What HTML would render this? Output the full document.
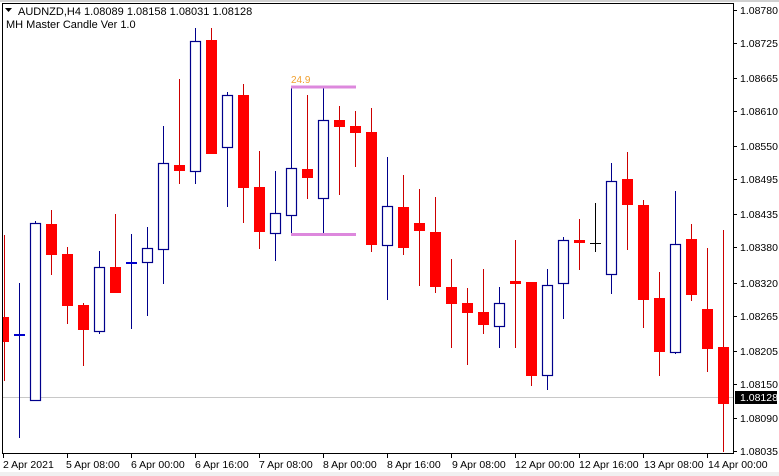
<!DOCTYPE html>
<html><head><meta charset="utf-8"><style>
html,body{margin:0;padding:0;background:#fff;}
svg{display:block;font-family:"Liberation Sans",Tahoma,sans-serif;font-size:11px;}
</style></head><body>
<svg width="779" height="476" viewBox="0 0 779 476" xmlns="http://www.w3.org/2000/svg">
<rect width="779" height="476" fill="#fff"/>
<rect x="0" y="472" width="779" height="4" fill="#f0f0f0"/>
<line x1="0" y1="1" x2="779" y2="1" stroke="#a0a0a0" stroke-width="1"/>
<rect x="2.5" y="3.5" width="731" height="450" fill="none" stroke="#000" stroke-width="1"/>
<line x1="3" y1="397.5" x2="733" y2="397.5" stroke="#c8c8c8" stroke-width="1"/>
<g id="c">
<!-- wick lines -->
<g stroke-width="1.2" shape-rendering="crispEdges">
<line x1="4.5" y1="235" x2="4.5" y2="381" stroke="#c00"/>
<line x1="19.5" y1="283" x2="19.5" y2="438" stroke="#00008b"/>
<line x1="35.5" y1="221" x2="35.5" y2="401" stroke="#00008b"/>
<line x1="51.5" y1="210" x2="51.5" y2="275" stroke="#c00"/>
<line x1="67.5" y1="247" x2="67.5" y2="324" stroke="#c00"/>
<line x1="83.5" y1="303" x2="83.5" y2="366" stroke="#c00"/>
<line x1="99.5" y1="251" x2="99.5" y2="334" stroke="#00008b"/>
<line x1="115.5" y1="214" x2="115.5" y2="293" stroke="#c00"/>
<line x1="131.5" y1="234" x2="131.5" y2="329" stroke="#00008b"/>
<line x1="147.5" y1="227" x2="147.5" y2="316" stroke="#00008b"/>
<line x1="163.5" y1="126" x2="163.5" y2="284" stroke="#00008b"/>
<line x1="179.5" y1="79" x2="179.5" y2="184" stroke="#c00"/>
<line x1="195.5" y1="28" x2="195.5" y2="184" stroke="#00008b"/>
<line x1="211.5" y1="28" x2="211.5" y2="154" stroke="#c00"/>
<line x1="227.5" y1="92" x2="227.5" y2="207" stroke="#00008b"/>
<line x1="243.5" y1="84" x2="243.5" y2="223" stroke="#c00"/>
<line x1="259.5" y1="151" x2="259.5" y2="249" stroke="#c00"/>
<line x1="275.5" y1="171" x2="275.5" y2="261" stroke="#00008b"/>
<line x1="291.5" y1="87" x2="291.5" y2="234" stroke="#00008b"/>
<line x1="307.5" y1="95" x2="307.5" y2="199" stroke="#c00"/>
<line x1="323.5" y1="88" x2="323.5" y2="234" stroke="#00008b"/>
<line x1="339.5" y1="106" x2="339.5" y2="195" stroke="#c00"/>
<line x1="355.5" y1="111" x2="355.5" y2="167" stroke="#c00"/>
<line x1="371.5" y1="108" x2="371.5" y2="252" stroke="#c00"/>
<line x1="387.5" y1="157" x2="387.5" y2="300" stroke="#00008b"/>
<line x1="403.5" y1="175" x2="403.5" y2="255" stroke="#c00"/>
<line x1="419.5" y1="189" x2="419.5" y2="286" stroke="#c00"/>
<line x1="435.5" y1="197" x2="435.5" y2="293" stroke="#c00"/>
<line x1="451.5" y1="259" x2="451.5" y2="348" stroke="#c00"/>
<line x1="467.5" y1="288" x2="467.5" y2="365" stroke="#c00"/>
<line x1="483.5" y1="269" x2="483.5" y2="334" stroke="#c00"/>
<line x1="499.5" y1="287" x2="499.5" y2="348" stroke="#00008b"/>
<line x1="515.5" y1="240" x2="515.5" y2="348" stroke="#c00"/>
<line x1="531.5" y1="282" x2="531.5" y2="386" stroke="#c00"/>
<line x1="547.5" y1="269" x2="547.5" y2="390" stroke="#00008b"/>
<line x1="563.5" y1="237" x2="563.5" y2="319" stroke="#00008b"/>
<line x1="579.5" y1="219" x2="579.5" y2="270" stroke="#c00"/>
<line x1="595.5" y1="203" x2="595.5" y2="252" stroke="#000"/>
<line x1="611.5" y1="163" x2="611.5" y2="294" stroke="#00008b"/>
<line x1="627.5" y1="152" x2="627.5" y2="250" stroke="#c00"/>
<line x1="643.5" y1="200" x2="643.5" y2="328" stroke="#c00"/>
<line x1="659.5" y1="272" x2="659.5" y2="376" stroke="#c00"/>
<line x1="675.5" y1="191" x2="675.5" y2="354" stroke="#00008b"/>
<line x1="691.5" y1="224" x2="691.5" y2="301" stroke="#c00"/>
<line x1="707.5" y1="248" x2="707.5" y2="372" stroke="#c00"/>
<line x1="723.5" y1="230" x2="723.5" y2="452" stroke="#c00"/>
</g>
<!-- red bodies -->
<g fill="#f00">
<rect x="3" y="317" width="6" height="25"/>
<rect x="46" y="224" width="11" height="31"/>
<rect x="62" y="254" width="11" height="52"/>
<rect x="78" y="305" width="11" height="25"/>
<rect x="110" y="267" width="11" height="26"/>
<rect x="174" y="165" width="11" height="6"/>
<rect x="206" y="40" width="11" height="114"/>
<rect x="238" y="95" width="11" height="93"/>
<rect x="254" y="187" width="11" height="45"/>
<rect x="302" y="169" width="11" height="9"/>
<rect x="334" y="120" width="11" height="7"/>
<rect x="350" y="126" width="11" height="7"/>
<rect x="366" y="132" width="11" height="113"/>
<rect x="398" y="207" width="11" height="41"/>
<rect x="414" y="223" width="11" height="8"/>
<rect x="430" y="232" width="11" height="55"/>
<rect x="446" y="287" width="11" height="17"/>
<rect x="462" y="303" width="11" height="10"/>
<rect x="478" y="312" width="11" height="13"/>
<rect x="510" y="281" width="11" height="3"/>
<rect x="526" y="282" width="11" height="94"/>
<rect x="574" y="240" width="11" height="3"/>
<rect x="622" y="179" width="11" height="26"/>
<rect x="638" y="205" width="11" height="95"/>
<rect x="654" y="298" width="11" height="54"/>
<rect x="686" y="239" width="11" height="56"/>
<rect x="702" y="309" width="11" height="40"/>
<rect x="718" y="347" width="11" height="57"/>
</g>
<!-- blue bodies -->
<g fill="#fff" stroke="#00008b" stroke-width="1.2">
<rect x="30.5" y="223.5" width="10" height="177"/>
<rect x="94.5" y="267.5" width="10" height="64"/>
<rect x="142.5" y="248.5" width="10" height="14"/>
<rect x="158.5" y="163.5" width="10" height="86"/>
<rect x="190.5" y="41.5" width="10" height="130"/>
<rect x="222.5" y="95.5" width="10" height="52"/>
<rect x="270.5" y="213.5" width="10" height="20"/>
<rect x="286.5" y="168.5" width="10" height="47"/>
<rect x="318.5" y="120.5" width="10" height="78"/>
<rect x="382.5" y="206.5" width="10" height="39"/>
<rect x="494.5" y="303.5" width="10" height="23"/>
<rect x="542.5" y="285.5" width="10" height="90"/>
<rect x="558.5" y="240.5" width="10" height="43"/>
<rect x="606.5" y="181.5" width="10" height="93"/>
<rect x="670.5" y="244.5" width="10" height="108"/>
</g>
<line x1="14" y1="335" x2="25" y2="335" stroke="#0000cc" stroke-width="2"/>
<line x1="126" y1="263" x2="137" y2="263" stroke="#0000cc" stroke-width="2"/>
<line x1="590" y1="243.5" x2="601" y2="243.5" stroke="#000" stroke-width="1"/>
</g>
<!-- pink range lines -->
<line x1="291" y1="87" x2="356" y2="87" stroke="#dd88dd" stroke-width="3"/>
<line x1="291" y1="234.5" x2="356" y2="234.5" stroke="#dd88dd" stroke-width="3"/>
<text x="291" y="83" fill="#f0a030" font-size="10">24.9</text>
<!-- header -->
<path d="M5 8 L12 8 L8.5 12 Z" fill="#000"/>
<text x="18" y="15" fill="#000">AUDNZD,H4  1.08089 1.08158 1.08031 1.08128</text>
<text x="6" y="28" fill="#000">MH Master Candle Ver 1.0</text>
<!-- right axis -->
<g fill="#000" font-size="10.5">
<g stroke="#000" stroke-width="1">
<line x1="733" y1="10.5" x2="737" y2="10.5"/><line x1="733" y1="43.5" x2="737" y2="43.5"/>
<line x1="733" y1="78.5" x2="737" y2="78.5"/><line x1="733" y1="111.5" x2="737" y2="111.5"/>
<line x1="733" y1="146.5" x2="737" y2="146.5"/><line x1="733" y1="179.5" x2="737" y2="179.5"/>
<line x1="733" y1="214.5" x2="737" y2="214.5"/><line x1="733" y1="247.5" x2="737" y2="247.5"/>
<line x1="733" y1="283.5" x2="737" y2="283.5"/><line x1="733" y1="316.5" x2="737" y2="316.5"/>
<line x1="733" y1="351.5" x2="737" y2="351.5"/><line x1="733" y1="384.5" x2="737" y2="384.5"/>
<line x1="733" y1="418.5" x2="737" y2="418.5"/><line x1="733" y1="451.5" x2="737" y2="451.5"/>
</g>
<text x="740" y="14">1.08780</text><text x="740" y="47">1.08725</text>
<text x="740" y="82">1.08665</text><text x="740" y="115">1.08610</text>
<text x="740" y="150">1.08550</text><text x="740" y="183">1.08495</text>
<text x="740" y="218">1.08435</text><text x="740" y="251">1.08380</text>
<text x="740" y="287">1.08320</text><text x="740" y="320">1.08265</text>
<text x="740" y="355">1.08205</text><text x="740" y="388">1.08150</text>
<text x="740" y="422">1.08090</text><text x="740" y="455">1.08035</text>
<rect x="735" y="391" width="42" height="13" fill="#000"/>
<text x="740" y="401" fill="#fff">1.08128</text>
</g>
<!-- bottom axis -->
<g stroke="#000" stroke-width="1">
<line x1="3.5" y1="454" x2="3.5" y2="458"/><line x1="67.5" y1="454" x2="67.5" y2="458"/>
<line x1="131.5" y1="454" x2="131.5" y2="458"/><line x1="195.5" y1="454" x2="195.5" y2="458"/>
<line x1="259.5" y1="454" x2="259.5" y2="458"/><line x1="323.5" y1="454" x2="323.5" y2="458"/>
<line x1="387.5" y1="454" x2="387.5" y2="458"/><line x1="451.5" y1="454" x2="451.5" y2="458"/>
<line x1="515.5" y1="454" x2="515.5" y2="458"/><line x1="579.5" y1="454" x2="579.5" y2="458"/>
<line x1="643.5" y1="454" x2="643.5" y2="458"/><line x1="707.5" y1="454" x2="707.5" y2="458"/>
</g>
<g fill="#000" font-size="10.5">
<text x="3" y="468">2 Apr 2021</text>
<text x="66" y="468">5 Apr 08:00</text>
<text x="131" y="468">6 Apr 00:00</text>
<text x="195" y="468">6 Apr 16:00</text>
<text x="259" y="468">7 Apr 08:00</text>
<text x="323" y="468">8 Apr 00:00</text>
<text x="387" y="468">8 Apr 16:00</text>
<text x="452" y="468">9 Apr 08:00</text>
<text x="515" y="468">12 Apr 00:00</text>
<text x="579" y="468">12 Apr 16:00</text>
<text x="644" y="468">13 Apr 08:00</text>
<text x="708" y="468">14 Apr 00:00</text>
</g>
</svg>
</body></html>
